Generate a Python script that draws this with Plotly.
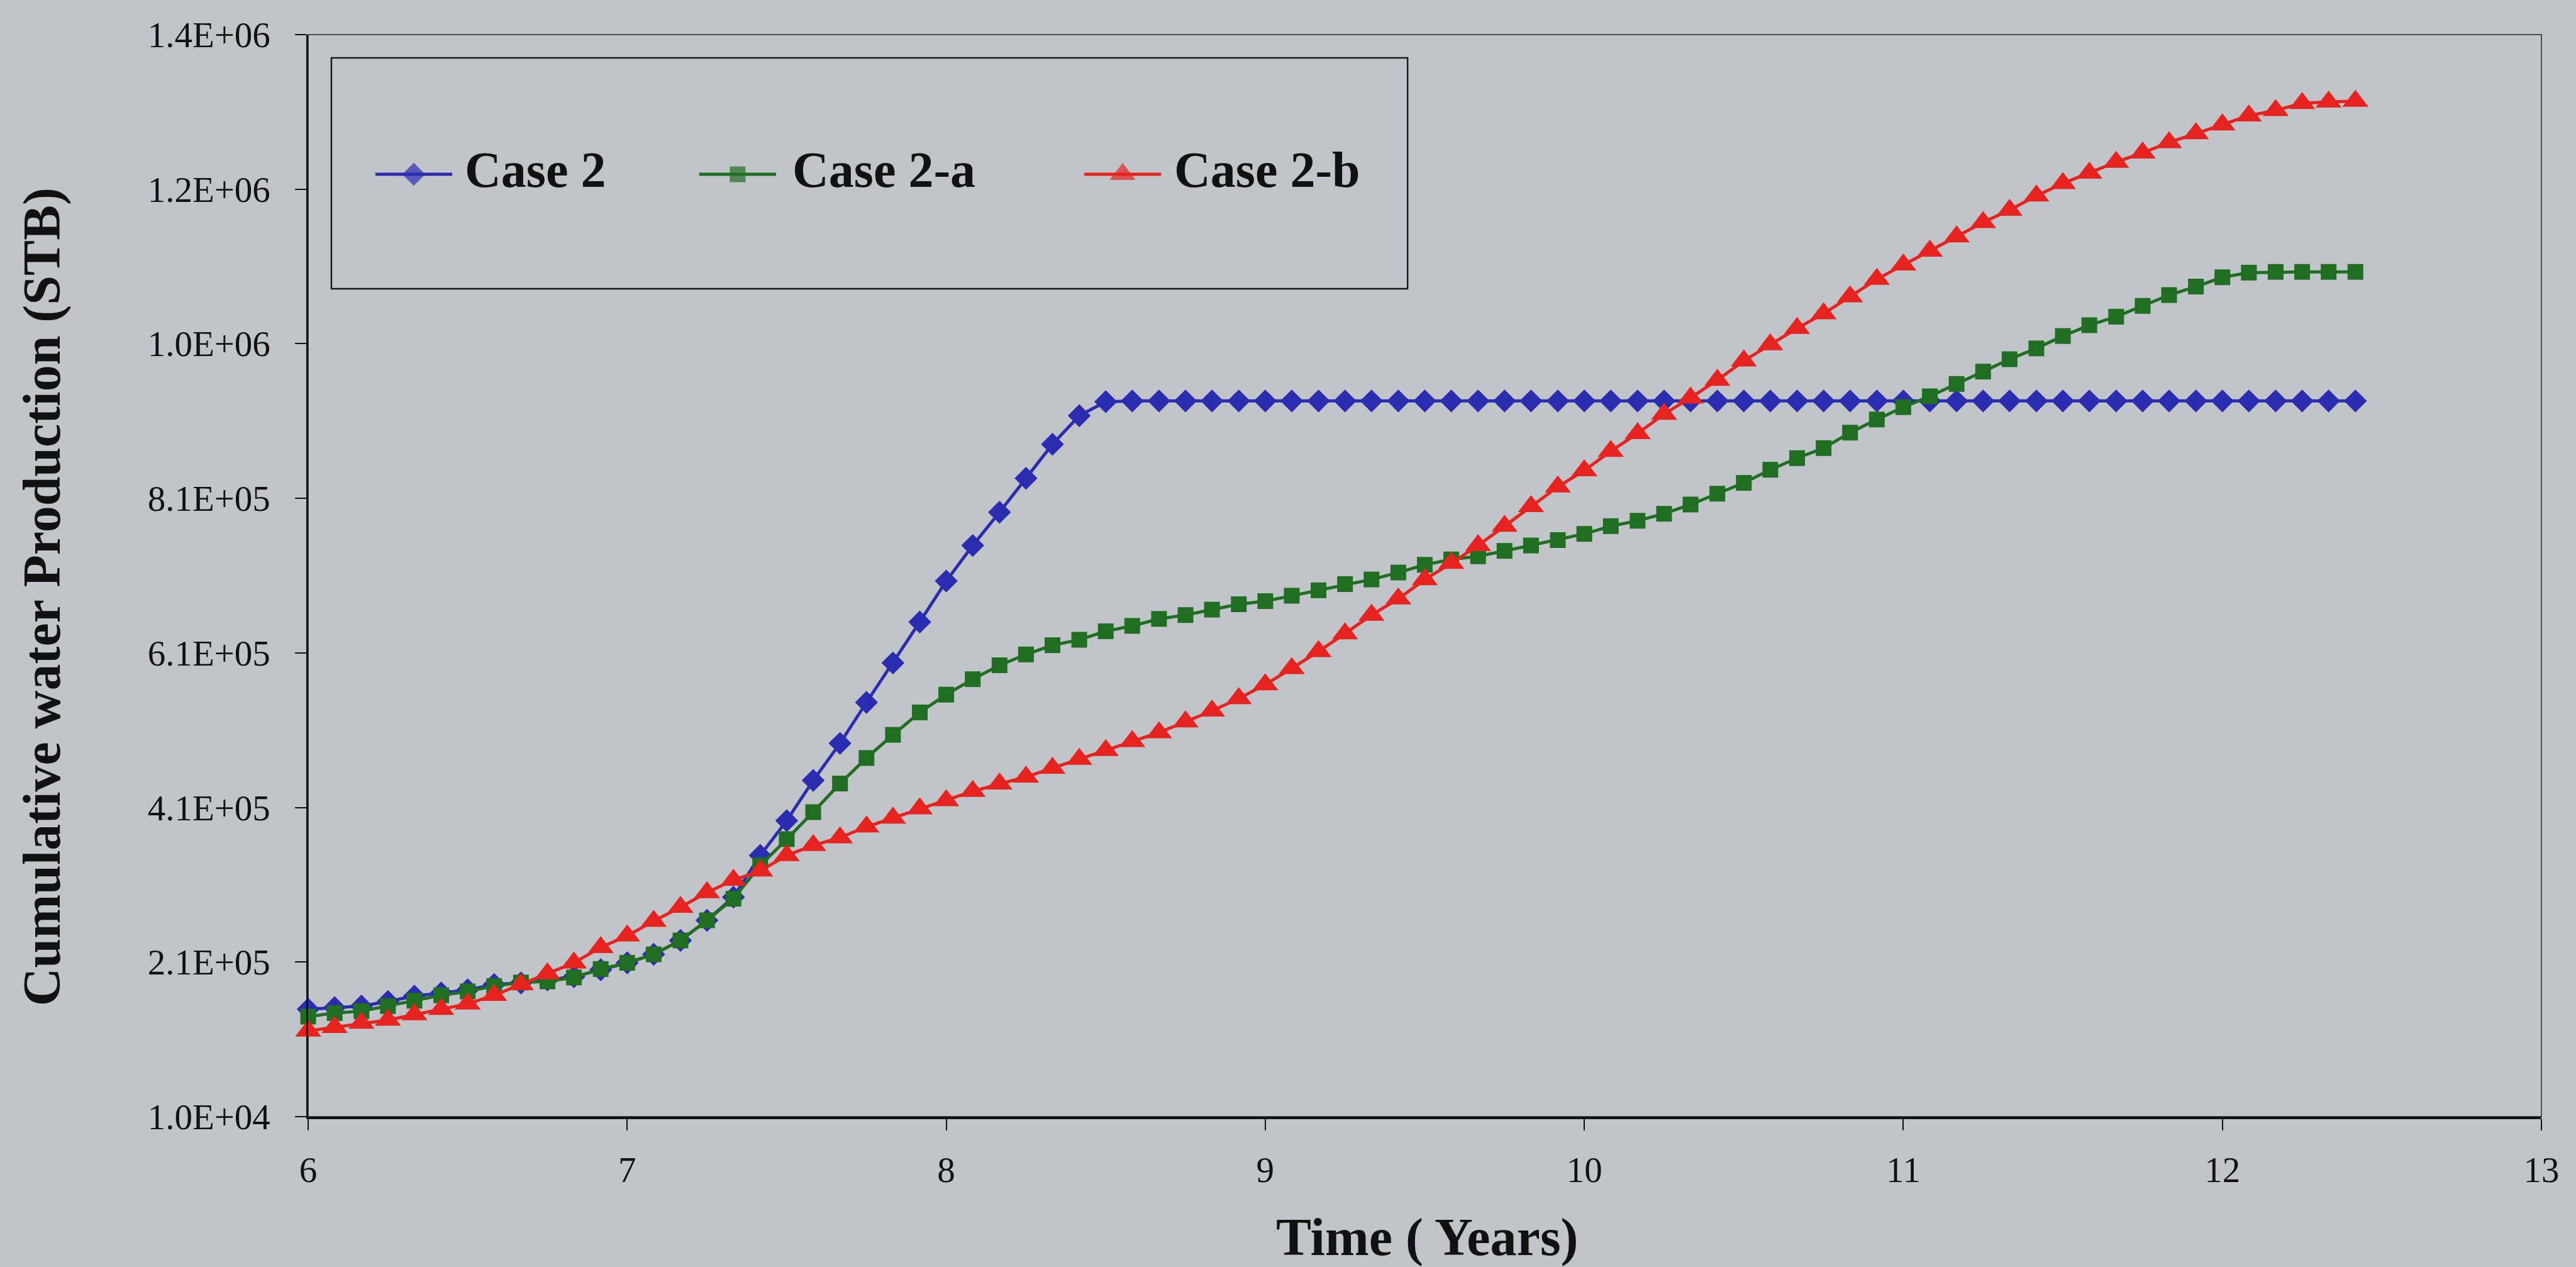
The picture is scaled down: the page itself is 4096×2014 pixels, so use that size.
import plotly.graph_objects as go

# ---- data -----------------------------------------------------------------
years = [
    6.000, 6.083, 6.167, 6.250, 6.333, 6.417, 6.500, 6.583, 6.667, 6.750, 6.833, 6.917,
    7.000, 7.083, 7.167, 7.250, 7.333, 7.417, 7.500, 7.583, 7.667, 7.750, 7.833, 7.917,
    8.000, 8.083, 8.167, 8.250, 8.333, 8.417, 8.500, 8.583, 8.667, 8.750, 8.833, 8.917,
    9.000, 9.083, 9.167, 9.250, 9.333, 9.417, 9.500, 9.583, 9.667, 9.750, 9.833, 9.917,
    10.000, 10.083, 10.167, 10.250, 10.333, 10.417, 10.500, 10.583, 10.667, 10.750, 10.833, 10.917,
    11.000, 11.083, 11.167, 11.250, 11.333, 11.417, 11.500, 11.583, 11.667, 11.750, 11.833, 11.917,
    12.000, 12.083, 12.167, 12.250, 12.333, 12.417,
]

case_2 = [
    149000, 151000, 153000, 159000, 166000, 170000, 174000, 181000, 183000, 187000, 191000, 200000,
    209000, 220000, 238000, 264000, 294000, 348000, 393000, 445000, 493000, 546000, 597000, 650000,
    703000, 749000, 792000, 836000, 880000, 917000, 935000, 936000, 936000, 936000, 936000, 936000,
    936000, 936000, 936000, 936000, 936000, 936000, 936000, 936000, 936000, 936000, 936000, 936000,
    936000, 936000, 936000, 936000, 936000, 936000, 936000, 936000, 936000, 936000, 936000, 936000,
    936000, 936000, 936000, 936000, 936000, 936000, 936000, 936000, 936000, 936000, 936000, 936000,
    936000, 936000, 936000, 936000, 936000, 936000,
]

case_2a = [
    139500, 144000, 146500, 153000, 160000, 167000, 172000, 179000, 183500, 185000, 190000, 201000,
    209000, 220000, 238000, 264000, 292000, 335000, 369000, 404000, 441000, 474000, 504000, 533000,
    556000, 576000, 594000, 608000, 620000, 627000, 638000, 645000, 654000, 659000, 666000, 673000,
    677000, 684000, 691000, 699000, 705000, 714000, 724000, 731000, 735000, 742000, 749000, 756000,
    764000, 774000, 781000, 790000, 802000, 816000, 830000, 847000, 862000, 875000, 895000, 912000,
    928000, 942000, 958000, 974000, 990000, 1004000, 1020000, 1034000, 1045000, 1059000, 1073000, 1084000,
    1096000, 1102000, 1103000, 1103000, 1103000, 1103000,
]

case_2b = [
    121000, 125500, 131000, 135000, 142000, 149000, 156000, 167000, 181000, 195000, 209000, 229000,
    244000, 263000, 281000, 300000, 316000, 328000, 348000, 361000, 371000, 385000, 396500, 408500,
    419000, 431000, 440500, 449500, 461000, 472500, 484000, 495500, 507000, 521000, 535000, 551000,
    569000, 590000, 612000, 635000, 659000, 680000, 705000, 726000, 749000, 774000, 799500, 825000,
    846000, 871000, 894000, 919000, 940000, 963000, 988000, 1009000, 1030000, 1049000, 1071000, 1093500,
    1112000, 1130000, 1148500, 1167000, 1183000, 1201500, 1217500, 1231000, 1245000, 1257000, 1270500, 1282000,
    1293500, 1305000, 1312000, 1321000, 1323000, 1324000,
]

series_names = ["Case 2", "Case 2-a", "Case 2-b"]
series_values = [case_2, case_2a, case_2b]

x_ticks = [6, 7, 8, 9, 10, 11, 12, 13]
y_ticks = [10000, 210000, 410000, 610000, 810000, 1010000, 1210000, 1410000]
y_tick_text = ["1.0E+04", "2.1E+05", "4.1E+05", "6.1E+05", "8.1E+05", "1.0E+06", "1.2E+06", "1.4E+06"]

# ---- styling --------------------------------------------------------------
BG = "#c1c4c9"
FONT = "Liberation Serif"
colors = ["#2a2db0", "#1f6e22", "#e6231f"]
symbols = ["diamond", "square", "triangle-up"]
sizes = [28, 25, 36]
LINE_W = 5

fig = go.Figure()

for name, vals, col, sym, sz in zip(series_names, series_values, colors, symbols, sizes):
    fig.add_trace(go.Scatter(
        x=years, y=vals, name=name, mode="lines+markers",
        line=dict(color=col, width=LINE_W),
        marker=dict(symbol=sym, size=sz, color=col, line=dict(width=0)),
        cliponaxis=False, showlegend=False,
    ))

# ---- legend (boxed, horizontal, long keys) --------------------------------
key_x = [0.0473, 0.1923, 0.3647]
key_half = 0.0172
key_y = 0.8709
text_x = [0.0696, 0.2163, 0.3872]
text_y = 0.8750

for name, col, sym, sz, kx, tx in zip(series_names, colors, symbols, sizes, key_x, text_x):
    fig.add_trace(go.Scatter(
        x=[kx - key_half, kx, kx + key_half], y=[key_y] * 3,
        xaxis="x2", yaxis="y2", mode="lines+markers",
        line=dict(color=col, width=LINE_W),
        marker=dict(symbol=sym, size=[0, sz, 0], color=col, line=dict(width=0)),
        cliponaxis=False, showlegend=False, hoverinfo="skip",
    ))
    fig.add_annotation(
        x=tx, y=text_y, xref="paper", yref="paper", text="<b>%s</b>" % name,
        showarrow=False, xanchor="left", yanchor="middle",
        font=dict(family=FONT, size=80, color="#111111"),
    )

fig.add_shape(type="rect", xref="paper", yref="paper",
              x0=0.0104, x1=0.4923, y0=0.7651, y1=0.9785,
              line=dict(color="#1a1a1a", width=2.5), fillcolor="rgba(0,0,0,0)")

# plot-area frame (top and right edges)
fig.add_shape(type="rect", xref="paper", yref="paper", x0=0, x1=1, y0=0, y1=1,
              line=dict(color="#2a2a2a", width=1.5), fillcolor="rgba(0,0,0,0)", layer="below")

# axis titles
fig.add_annotation(
    x=-0.1191, y=0.4802, xref="paper", yref="paper",
    text="<b>Cumulative water Production (STB)</b>", textangle=-90,
    showarrow=False, xanchor="center", yanchor="middle",
    font=dict(family=FONT, size=84, color="#111111"),
)
fig.add_annotation(
    x=0.501, y=-0.1116, xref="paper", yref="paper",
    text="<b>Time ( Years)</b>",
    showarrow=False, xanchor="center", yanchor="middle",
    font=dict(family=FONT, size=84, color="#111111"),
)

fig.update_layout(
    width=4096, height=2014,
    margin=dict(l=490, r=55, t=55, b=239),
    paper_bgcolor=BG, plot_bgcolor=BG,
    xaxis=dict(
        range=[6, 13], tickvals=x_ticks, ticktext=[str(v) for v in x_ticks],
        showgrid=False, zeroline=False,
        showline=True, linecolor="#111111", linewidth=3.5,
        ticks="outside", ticklen=18, tickwidth=2, tickcolor="#111111",
        ticklabelstandoff=14,
        tickfont=dict(family=FONT, size=57, color="#111111"),
    ),
    yaxis=dict(
        range=[10000, 1410000], tickvals=y_ticks, ticktext=y_tick_text,
        showgrid=False, zeroline=False,
        showline=True, linecolor="#111111", linewidth=2.5,
        ticks="outside", ticklen=18, tickwidth=2, tickcolor="#111111",
        ticklabelstandoff=28,
        tickfont=dict(family=FONT, size=57, color="#111111"),
    ),
    xaxis2=dict(range=[0, 1], overlaying="x", anchor="y2", visible=False, fixedrange=True),
    yaxis2=dict(range=[0, 1], overlaying="y", anchor="x2", visible=False, fixedrange=True),
)

fig.write_html("out.html")
